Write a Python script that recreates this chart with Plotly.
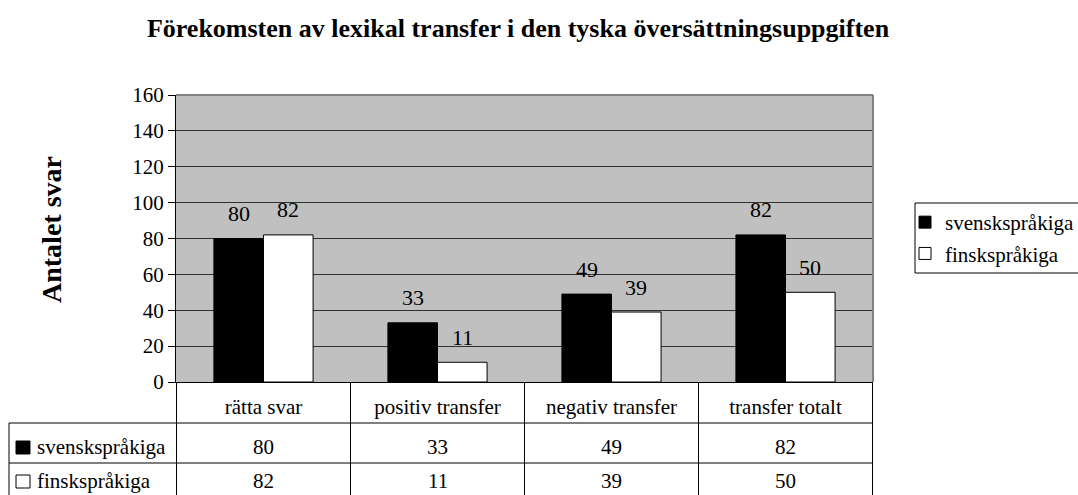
import plotly.graph_objects as go

# Data
categories = ["rätta svar", "positiv transfer", "negativ transfer", "transfer totalt"]
svensk = [80, 33, 49, 82]
finsk = [82, 11, 39, 50]
series_names = ["svenskspråkiga", "finskspråkiga"]
series_colors = ["black", "white"]

FONT = "Liberation Serif, Times New Roman, serif"
W, H = 1078, 495
L, R, T, B = 176, 873, 95, 382          # plot area in pixels
PW, PH = R - L, B - T
BARGAP = 0.43


def py(y_pix):
    """pixel y -> paper y"""
    return (B - y_pix) / PH


def px(x_pix):
    """pixel x -> paper x"""
    return (x_pix - L) / PW


fig = go.Figure()
for name, vals, col in zip(series_names, [svensk, finsk], series_colors):
    fig.add_trace(go.Bar(
        x=categories, y=vals, name=name, legendgroup=name,
        marker=dict(color=col, line=dict(color="black", width=1)),
        hoverinfo="skip",
    ))

# value labels above bars
bar_w = PW / len(categories) * (1 - BARGAP) / 2
annotations = []
for i, vals in enumerate([svensk, finsk]):
    shift = (i - 0.5) * bar_w
    for c, v in zip(categories, vals):
        annotations.append(dict(
            x=c, y=v, xref="x", yref="y", text=str(v), showarrow=False,
            xshift=shift, yshift=25, yanchor="middle",
            font=dict(family=FONT, size=22, color="black"),
        ))

# data table below the plot
row_centers = [447, 481]
for name, vals, yc in zip(series_names, [svensk, finsk], row_centers):
    for c, v in zip(categories, vals):
        annotations.append(dict(
            x=c, y=py(yc), xref="x", yref="paper", text=str(v), showarrow=False,
            yanchor="middle", font=dict(family=FONT, size=21, color="black"),
        ))
    annotations.append(dict(
        x=px(35), y=py(yc), xref="paper", yref="paper", text=name, showarrow=False,
        xanchor="left", yanchor="middle", font=dict(family=FONT, size=21, color="black"),
    ))

# y axis title
annotations.append(dict(
    x=px(51), y=py(229), xref="paper", yref="paper", text="<b>Antalet svar</b>",
    showarrow=False, textangle=-90, xanchor="center", yanchor="middle",
    font=dict(family=FONT, size=28, color="black"),
))

line = dict(color="black", width=1)
shapes = []
# plot border top/right (grey)
shapes.append(dict(type="line", xref="paper", yref="paper", x0=0, x1=1, y0=1, y1=1,
                   line=dict(color="#808080", width=2)))
shapes.append(dict(type="line", xref="paper", yref="paper", x0=1, x1=1, y0=0, y1=1,
                   line=dict(color="#808080", width=2)))
# table horizontal lines
for yp in [423, 463]:
    shapes.append(dict(type="line", xref="paper", yref="paper", x0=px(9), x1=1,
                       y0=py(yp), y1=py(yp), line=line))
# table vertical lines
bottom = py(H + 10)
for k in range(len(categories) + 1):
    shapes.append(dict(type="line", xref="x", yref="paper", x0=k - 0.5, x1=k - 0.5,
                       y0=0, y1=bottom, line=line))
shapes.append(dict(type="line", xref="paper", yref="paper", x0=px(9), x1=px(9),
                   y0=py(423), y1=bottom, line=line))
# table legend keys
for col, yc in zip(series_colors, row_centers):
    shapes.append(dict(type="rect", xref="paper", yref="paper",
                       x0=px(16), x1=px(30), y0=py(yc + 7), y1=py(yc - 6),
                       fillcolor=col, line=line))
# legend frame
shapes.append(dict(type="rect", xref="paper", yref="paper",
                   x0=px(915), x1=px(W + 20), y0=py(273), y1=py(203),
                   fillcolor="white", line=line))

fig.update_layout(
    width=W, height=H,
    margin=dict(l=L, r=W - R, t=T, b=H - B, autoexpand=False),
    paper_bgcolor="white",
    plot_bgcolor="#C0C0C0",
    font=dict(family=FONT, size=21, color="black"),
    title=dict(
        text="<b>Förekomsten av lexikal transfer i den tyska översättningsuppgiften</b>",
        x=518 / W, xanchor="center", y=1 - 28 / H, yanchor="middle", yref="container",
        font=dict(family=FONT, size=26, color="black"),
    ),
    barmode="group", bargap=BARGAP, bargroupgap=0,
    legend=dict(
        x=px(905), y=py(202), xanchor="left", yanchor="top",
        borderwidth=0, bgcolor="rgba(0,0,0,0)",
        font=dict(family=FONT, size=21, color="black"),
        tracegroupgap=1, itemwidth=30,
    ),
    annotations=annotations,
    shapes=shapes,
)

fig.update_xaxes(
    showgrid=False, showline=True, linecolor="black", linewidth=1,
    ticks="", tickfont=dict(family=FONT, size=21), ticklabelstandoff=6,
)
fig.update_yaxes(
    range=[0, 160], dtick=20, showgrid=True, gridcolor="#303030", gridwidth=1,
    showline=True, linecolor="black", linewidth=1, zeroline=False,
    ticks="outside", ticklen=7, tickcolor="black",
    tickfont=dict(family=FONT, size=21),
)

fig.write_html("out.html", config={"displayModeBar": False},
               post_script="document.body.style.margin='0';")
